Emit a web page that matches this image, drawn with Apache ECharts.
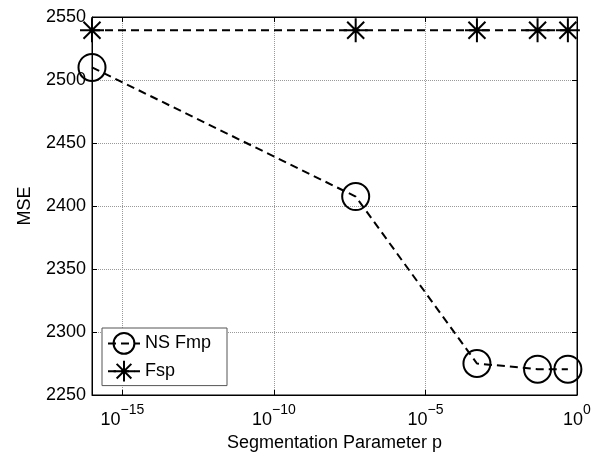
<!DOCTYPE html>
<html lang="en">
<head>
<meta charset="UTF-8">
<title>MSE vs segmentation parameter</title>
<script src="https://cdn.jsdelivr.net/npm/echarts@6/dist/echarts.min.js"></script>
<style>
	html,body{margin:0;padding:0;background:#fff;}
	#chart{width:601px;height:452px;}
</style>
</head>
<body>
<div id="chart"></div>
<script>
	// data
	var pValues = [1e-16, 5e-8, 5e-4, 5e-2, 5e-1];
	var nsFmp = [2510, 2407.5, 2275, 2270.5, 2270.5];
	var fsp = [2539.5, 2539.5, 2539.5, 2539.5, 2539.5];
	var xTicks = [1e-15, 1e-10, 1e-5, 1];
	var yMin = 2250, yMax = 2550, yStep = 50;

	var font = 'Liberation Sans, Arial, Helvetica, sans-serif';
	var asterisk = 'path://M0,12L24,12M12,0L12,24M3.5,3.5L20.5,20.5M20.5,3.5L3.5,20.5';

	function pairs(xs, ys){
		var out = [];
		for(var i=0;i<xs.length;i++){
			out.push([xs[i], ys[i]]);
		}
		return out;
	}
	//10^n labels
	function expLabel(v){
		var e = Math.round(Math.log10(v));
		var s = e < 0 ? '\u2212' + (-e) : '' + e;
		return '{b|10}{s|' + s + '}';
	}

	var myChart = echarts.init(document.getElementById('chart'), null, {renderer:'canvas'});
	var option = {
		backgroundColor:'#fff',
		animation:false,
		textStyle:{fontFamily:font, color:'#000'},
		grid:{
			left:92, right:24, top:17, bottom:57,
			outerBoundsMode:'none', containLabel:false,
			show:true, borderColor:'#000', borderWidth:1
		},
		legend:{
			orient:'vertical',
			left:102, top:328,
			padding:[4,16,3,5],
			itemWidth:32, itemHeight:26, itemGap:5,
			borderColor:'#555', borderWidth:1,
			backgroundColor:'#fff',
			textStyle:{fontFamily:font, fontSize:18, color:'#000'},
			data:['NS Fmp','Fsp']
		},
		xAxis:[
			{
				type:'log', logBase:10, min:1e-16, max:1,
				name:'Segmentation Parameter p',
				nameLocation:'middle', nameGap:29,
				nameTextStyle:{fontFamily:font, fontSize:18, color:'#000'},
				axisLine:{lineStyle:{color:'#000', width:1}},
				axisTick:{inside:true, length:5, customValues:xTicks, lineStyle:{color:'#000'}},
				axisLabel:{
					customValues:xTicks, margin:8,
					formatter:expLabel,
					rich:{
						b:{fontFamily:font, fontSize:18, color:'#000', lineHeight:26, verticalAlign:'bottom'},
						s:{fontFamily:font, fontSize:14, color:'#000', lineHeight:26, verticalAlign:'top'}
					}
				},
				splitLine:{show:true, lineStyle:{color:'#999', type:'dotted', width:1}},
				minorTick:{show:false}
			},
			{
				type:'log', logBase:10, min:1e-16, max:1, position:'top',
				axisLine:{lineStyle:{color:'#000'}},
				axisTick:{inside:true, length:5, customValues:xTicks, lineStyle:{color:'#000'}},
				axisLabel:{show:false},
				splitLine:{show:false}
			}
		],
		yAxis:[
			{
				type:'value', min:yMin, max:yMax, interval:yStep,
				name:'MSE', nameLocation:'middle', nameGap:58,
				nameTextStyle:{fontFamily:font, fontSize:18, color:'#000'},
				axisLine:{show:true, lineStyle:{color:'#000'}},
				axisTick:{show:true, inside:true, length:5, lineStyle:{color:'#000'}},
				axisLabel:{
					fontFamily:font, fontSize:18, color:'#000', margin:6,
					formatter:function(v){ return String(v); }
				},
				splitLine:{show:true, lineStyle:{color:'#999', type:'dotted', width:1}}
			},
			{
				type:'value', min:yMin, max:yMax, interval:yStep, position:'right',
				axisLine:{show:true, lineStyle:{color:'#000'}},
				axisTick:{show:true, inside:true, length:5, lineStyle:{color:'#000'}},
				axisLabel:{show:false},
				splitLine:{show:false}
			}
		],
		series:[
			{
				name:'NS Fmp',
				type:'line',
				clip:false,
				data:pairs(pValues, nsFmp),
				symbol:'circle', symbolSize:27,
				itemStyle:{color:'rgba(0,0,0,0)', borderColor:'#000', borderWidth:2},
				lineStyle:{color:'#000', width:2, type:[8,5]}
			},
			{
				name:'Fsp',
				type:'line',
				clip:false,
				data:pairs(pValues, fsp),
				symbol:asterisk, symbolSize:24,
				itemStyle:{color:'rgba(0,0,0,0)', borderColor:'#000', borderWidth:2},
				lineStyle:{color:'#000', width:2, type:[8,5]}
			}
		]
	};
	myChart.setOption(option);
</script>
</body>
</html>
